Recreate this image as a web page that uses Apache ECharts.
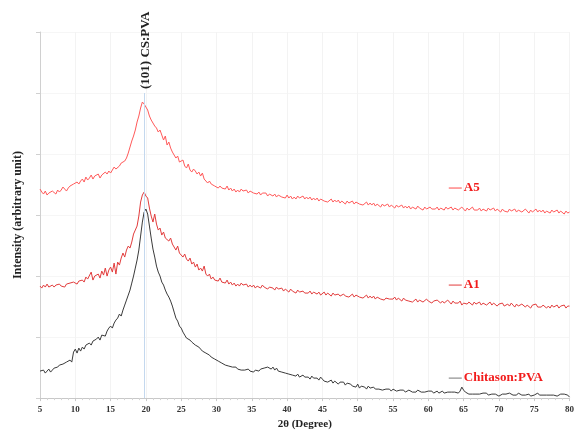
<!DOCTYPE html>
<html>
<head>
<meta charset="utf-8">
<script src="https://cdn.jsdelivr.net/npm/echarts@6/dist/echarts.min.js"></script>
<style>
  html, body { margin: 0; padding: 0; background: #fff; }
  #chart { width: 577px; height: 435px; }
</style>
</head>
<body>
<div id="chart"></div>
<script>
// XRD scan: 2θ from 5° to 80° in 0.25° steps
const thetaStart = 5;
const thetaStep = 0.25;

// Chitosan:PVA blend (intensity, arbitrary units)
const chitosanPVA = [
  27,26,28,25, 27,29,26,28, 30,29,31,33, 32,34,33,36, 35,38,36,46,
  49,45,50,47, 51,49,53,52, 55,53,57,56, 59,61,58,63, 64,62,67,70,
  72,70,75,78, 80,84,82,88, 93,98,103,108, 115,122,130,138, 148,162,176,186,
  189,184,172,160, 149,141,132,126, 122,116,113,108, 104,101,97,92, 86,80,77,72,
  70,66,63,60, 61,58,56,55, 53,52,51,49, 47,48,45,44, 43,41,42,39,
  38,37,36,35, 35,33,34,32, 32,31,30,31, 29,30,28,29, 28,27,29,27,
  27,26,28,27, 27,29,28,30, 29,31,30,29, 31,28,30,27, 28,26,27,25,
  26,24,25,23, 24,22,24,21, 22,23,21,20, 21,19,22,20, 19,20,18,21,
  19,17,18,16, 17,18,15,17, 16,14,16,15, 16,13,15,14, 14,12,13,11,
  14,10,12,11, 11,9,12,10, 10,11,9,10, 9,10,8,9, 9,8,9,7,
  9,8,7,8, 8,7,8,6, 7,8,7,6, 7,6,8,7, 6,7,6,7,
  7,6,7,5, 6,7,5,6, 7,5,6,6, 5,6,5,6, 6,5,7,11,
  8,6,5,4, 5,4,5,4, 5,4,4,5, 4,5,3,4, 4,3,4,5,
  2,3,4,3, 4,3,5,4, 3,4,3,5, 4,3,4,3, 3,4,2,3,
  3,4,5,3, 4,3,2,3, 2,3,4,3, 3,2,3,4, 3,4,5,3,
  1
];

// Sample A1
const sampleA1 = [
  112,110,113,111, 114,111,112,113, 111,113,112,114, 112,113,111,114, 113,115,114,116,
  115,114,117,116, 118,116,121,119, 120,126,118,122, 121,124,120,127, 123,130,122,128,
  131,126,135,124, 136,133,140,145, 141,148,152,150, 156,164,168,172, 182,196,203,206,
  202,200,190,182, 176,184,174,168, 170,163,166,160, 161,157,160,154, 151,148,152,145,
  146,141,144,139, 137,140,134,136, 131,134,128,130, 127,132,124,122, 124,119,121,118,
  119,117,120,116, 117,115,118,114, 116,113,115,112, 114,112,115,113, 112,114,111,113,
  111,113,110,112, 112,110,113,111, 112,109,111,110, 110,108,111,109, 108,110,107,109,
  108,106,109,107, 107,105,108,106, 106,107,105,106, 105,107,104,106, 105,104,106,103,
  104,106,103,105, 104,102,105,103, 103,104,102,103, 104,102,103,101, 102,104,101,103,
  103,101,102,100, 101,103,100,102, 100,102,99,101, 101,99,100,98, 100,101,99,100,
  99,101,98,100, 99,97,100,98, 99,97,98,96, 97,99,96,98, 98,96,97,99,
  97,98,95,97, 96,98,97,95, 97,95,96,98, 96,94,97,95, 96,95,97,93,
  95,96,94,96, 95,93,96,94, 94,96,93,95, 95,93,94,96, 93,95,94,92,
  94,93,95,92, 93,94,92,95, 93,91,94,92, 92,94,93,91, 93,92,90,93,
  92,94,91,92, 91,93,92,90, 92,90,93,91, 91,93,90,92, 91,93,90,92,
  92
];

// Sample A5
const sampleA5 = [
  209,206,204,207, 203,205,204,207, 206,204,208,206, 208,211,209,207, 210,212,211,214,
  213,216,214,217, 219,216,221,218, 220,223,219,222, 221,224,220,223, 222,226,224,227,
  225,228,231,229, 230,232,235,234, 237,240,245,251, 257,262,268,276, 282,290,296,294,
  291,288,282,278, 275,272,270,266, 268,263,258,262, 253,256,250,246, 243,240,242,236,
  235,238,232,230, 234,228,226,229, 227,224,226,222, 225,219,218,215, 217,214,215,212,
  213,210,212,210, 211,209,212,208, 210,207,209,206, 208,206,209,207, 206,208,205,207,
  207,205,206,204, 206,203,205,204, 205,202,204,203, 202,204,201,203, 203,201,202,200,
  203,200,202,199, 201,199,202,200, 200,202,199,201, 199,201,198,200, 198,200,197,199,
  199,197,198,196, 197,199,196,198, 196,198,195,197, 196,194,197,195, 195,197,194,196,
  196,194,195,193, 194,196,193,195, 193,195,192,194, 193,191,194,192, 192,194,191,193,
  192,190,193,191, 191,193,190,192, 190,192,189,191, 191,189,192,190, 190,188,191,189,
  190,191,189,190, 189,191,188,190, 190,188,191,189, 189,191,188,190, 190,188,189,191,
  189,187,190,188, 189,191,188,189, 188,190,187,189, 189,187,190,188, 188,190,187,189,
  188,186,189,187, 188,186,189,187, 187,189,186,188, 188,186,187,189, 187,185,188,186,
  187,189,186,188, 186,188,185,187, 187,185,188,186, 186,188,185,187, 186,184,187,185,
  186
];

// Reflection marker and series labels
const peakTheta = 19.8;
const peakTopValue = 305;
const peakLabel = '(101) CS:PVA';
const seriesNames = ['A5', 'A1', 'Chitason:PVA'];
const labelTheta = 62.9;
const labelValues = [210, 113, 20];

const theta = chitosanPVA.map((_, i) => thetaStart + i * thetaStep);
const pairs = arr => arr.map((v, i) => [theta[i], v]);

const serif = '"Liberation Serif", "Times New Roman", serif';
const lineColors = ['#ff5a5a', '#e23c3c', '#3a3a3a'];
const dashColors = ['#ff4a4a', '#e23c3c', '#777777'];

const chart = echarts.init(document.getElementById('chart'), null, { renderer: 'canvas' });

chart.setOption({
  animation: false,
  backgroundColor: '#ffffff',
  grid: { left: 40, right: 6, top: 32, bottom: 36 },
  xAxis: {
    type: 'value',
    min: 5, max: 80, interval: 5,
    name: '2θ (Degree)',
    nameLocation: 'middle',
    nameGap: 20,
    nameTextStyle: { fontFamily: serif, fontWeight: 'bold', fontSize: 11, color: '#222' },
    axisLine: { lineStyle: { color: '#c8c8c8', width: 1 } },
    axisTick: { show: true, length: 3, lineStyle: { color: '#c8c8c8' } },
    minorTick: { show: true, splitNumber: 5, length: 2, lineStyle: { color: '#d4d4d4' } },
    axisLabel: { fontFamily: serif, fontWeight: 'bold', fontSize: 9, color: '#333', margin: 7 },
    splitLine: { show: true, lineStyle: { color: '#f3f3f3', width: 1 } }
  },
  yAxis: {
    type: 'value',
    min: 0, max: 366, interval: 61,
    name: 'Intensity (arbitrary unit)',
    nameLocation: 'middle',
    nameGap: 16,
    nameTextStyle: { fontFamily: serif, fontWeight: 'bold', fontSize: 12, color: '#222' },
    axisLine: { show: true, lineStyle: { color: '#d0d0d0', width: 1 } },
    axisTick: { show: true, length: 4, lineStyle: { color: '#d0d0d0' } },
    axisLabel: { show: false },
    splitLine: { show: true, lineStyle: { color: '#f6f6f6', width: 1 } }
  },
  series: [
    {
      name: 'A5', type: 'line', data: pairs(sampleA5),
      showSymbol: false, lineStyle: { color: lineColors[0], width: 1 }, z: 3
    },
    {
      name: 'A1', type: 'line', data: pairs(sampleA1),
      showSymbol: false, lineStyle: { color: lineColors[1], width: 1 }, z: 3
    },
    {
      name: 'Chitason:PVA', type: 'line', data: pairs(chitosanPVA),
      showSymbol: false, lineStyle: { color: lineColors[2], width: 1 }, z: 4,
      markLine: {
        silent: true,
        symbol: ['none', 'none'],
        label: { show: false },
        lineStyle: { color: '#c4d8ee', width: 1, type: 'solid' },
        data: [[{ coord: [peakTheta, 0] }, { coord: [peakTheta, peakTopValue] }]]
      }
    }
  ]
});

// Text annotations placed through the axis scales
const peakPx = chart.convertToPixel({ gridIndex: 0 }, [peakTheta, peakTopValue]);
const graphics = [{
  type: 'text',
  x: peakPx[0] + 1,
  y: peakPx[1] - 4,
  rotation: Math.PI / 2,
  style: {
    text: peakLabel,
    fontFamily: serif, fontWeight: 'bold', fontSize: 13,
    fill: '#222',
    align: 'left', verticalAlign: 'middle'
  }
}];

seriesNames.forEach((name, i) => {
  const p = chart.convertToPixel({ gridIndex: 0 }, [labelTheta, labelValues[i]]);
  graphics.push({
    type: 'line',
    shape: { x1: p[0], y1: p[1], x2: p[0] + 13, y2: p[1] },
    style: { stroke: dashColors[i], lineWidth: 1 }
  });
  graphics.push({
    type: 'text',
    x: p[0] + 15,
    y: p[1],
    style: {
      text: name,
      fontFamily: serif, fontWeight: 'bold', fontSize: 13,
      fill: '#f21c1c',
      align: 'left', verticalAlign: 'middle'
    }
  });
});

chart.setOption({ graphic: graphics });
</script>
</body>
</html>
